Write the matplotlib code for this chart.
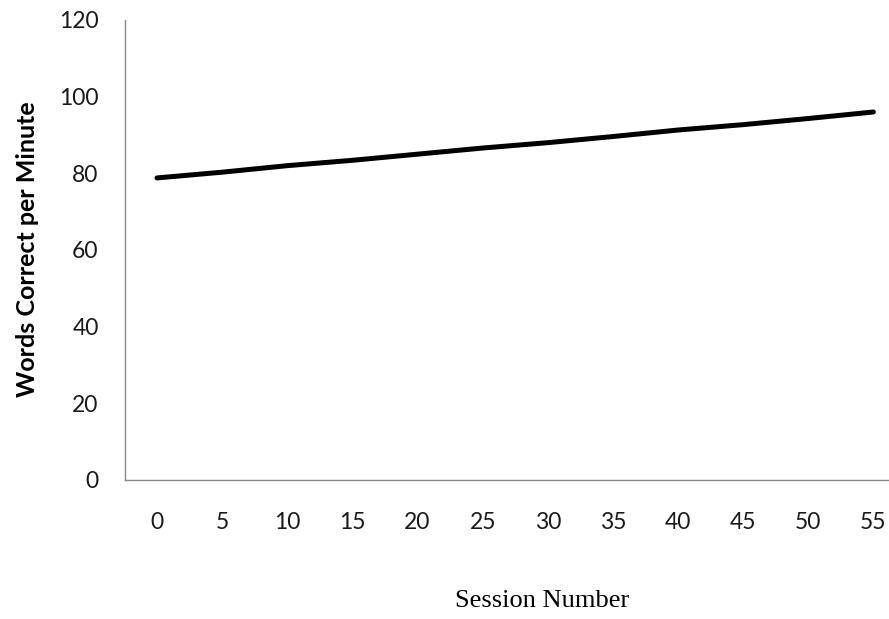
import matplotlib
matplotlib.use("Agg")
import matplotlib.pyplot as plt

sessions = [0, 5, 10, 15, 20, 25, 30, 35, 40, 45, 50, 55]
wcpm = [78.8, 80.3, 82.0, 83.4, 85.0, 86.6, 88.0, 89.6, 91.3, 92.7, 94.3, 96.0]
x_ticks = [0, 5, 10, 15, 20, 25, 30, 35, 40, 45, 50, 55]
y_ticks = [0, 20, 40, 60, 80, 100, 120]

fig = plt.figure(figsize=(8.89, 6.19), dpi=100)
ax = fig.add_axes([125/889, 1-480/619, 1-125/889, (480-20)/619])

ax.plot(sessions, wcpm, color='black', linewidth=3.6, solid_capstyle='round')

ax.set_xlim(-2.46, 56.2)
ax.set_ylim(0, 120)
ax.set_xticks(x_ticks)
ax.set_yticks(y_ticks)
for s in ['top', 'right']:
    ax.spines[s].set_visible(False)
for s in ['left', 'bottom']:
    ax.spines[s].set_color('#888888')
    ax.spines[s].set_linewidth(1.0)
ax.tick_params(axis='both', length=0, labelsize=16.5, colors='#1a1a1a')
ax.tick_params(axis='y', pad=19)
ax.tick_params(axis='x', pad=23)
for lab in ax.get_xticklabels() + ax.get_yticklabels():
    lab.set_family('Lato')

fig.text(28/889, 1-249/619, 'Words Correct per Minute', rotation=90, ha='center', va='center',
         fontsize=18, fontweight='bold', family='Lato')
fig.text(542/889, 1-601/619, 'Session Number', ha='center', va='center',
         fontsize=19, family='Liberation Serif')

fig.savefig('out.png', dpi=100)
